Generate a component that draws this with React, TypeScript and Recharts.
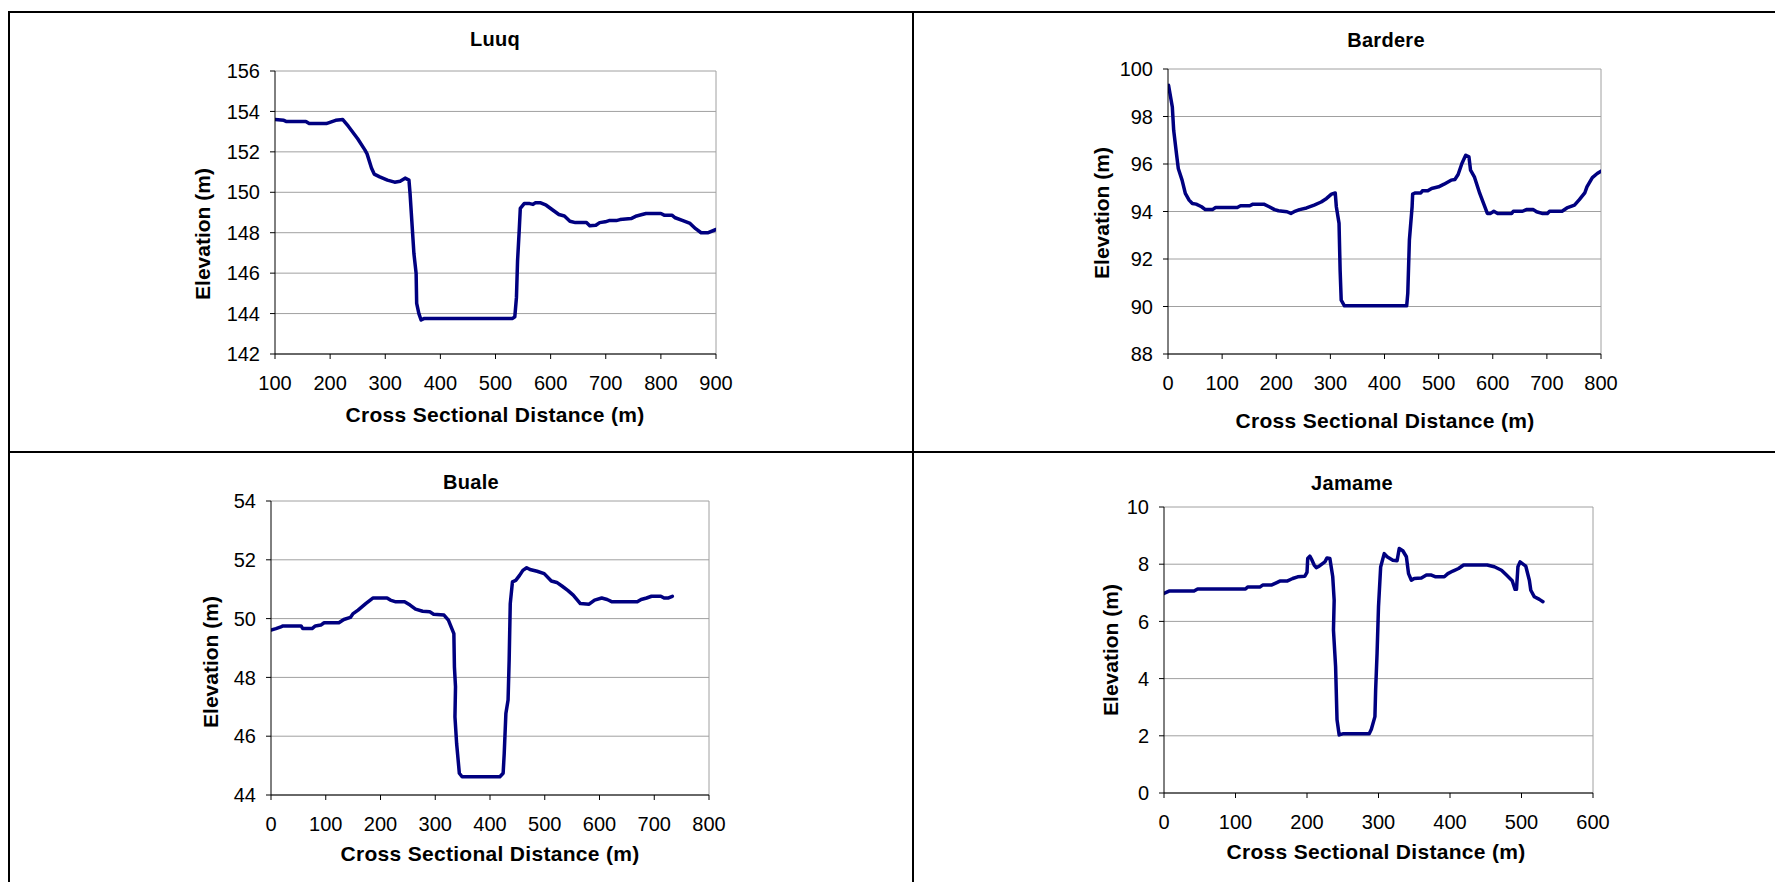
import React from 'react';
import { LineChart, Line, XAxis, YAxis, CartesianGrid, ReferenceLine } from 'recharts';

// ---- Data ----
const luuqDistance = [100, 116, 121, 156, 162, 193, 210, 223, 233, 250, 263, 267, 275, 280, 290, 304, 317, 327, 336, 343, 345, 352, 356, 357, 361, 365, 371, 397, 531, 535, 538, 540, 543, 545, 552, 562, 568, 572, 582, 592, 605, 615, 625, 635, 645, 665, 671, 682, 689, 699, 706, 719, 726, 746, 756, 766, 773, 800, 806, 820, 826, 840, 853, 863, 873, 886, 900];
const luuqElevation = [153.6, 153.56, 153.5, 153.5, 153.4, 153.4, 153.56, 153.6, 153.27, 152.65, 152.1, 151.9, 151.2, 150.9, 150.76, 150.6, 150.5, 150.55, 150.7, 150.6, 149.94, 146.97, 145.99, 144.5, 144.0, 143.68, 143.76, 143.76, 143.76, 143.84, 144.8, 146.6, 148.1, 149.2, 149.44, 149.44, 149.4, 149.48, 149.48, 149.36, 149.1, 148.9, 148.83, 148.57, 148.5, 148.5, 148.34, 148.37, 148.5, 148.54, 148.6, 148.6, 148.65, 148.7, 148.83, 148.9, 148.95, 148.95, 148.87, 148.87, 148.74, 148.6, 148.46, 148.2, 148.0, 148.0, 148.16];

const bardereDistance = [1, 8, 10.5, 16, 19, 26, 32, 39, 45, 52, 62, 69, 82, 88, 128, 134, 151, 157, 177, 187, 197, 204, 220, 227, 233, 243, 256, 270, 283, 293, 302, 309, 311, 316, 318, 320, 326, 339, 441, 443, 446, 451, 452, 457, 467, 470, 480, 487, 500, 510, 523, 530, 536, 543, 550, 556, 559, 566, 576, 583, 590, 596, 602, 609, 635, 638, 655, 662, 675, 681, 691, 701, 705, 728, 737, 751, 760, 770, 774, 784, 793, 800];
const bardereElevation = [99.31, 98.4, 97.42, 96.37, 95.81, 95.32, 94.76, 94.48, 94.34, 94.31, 94.2, 94.08, 94.08, 94.17, 94.17, 94.24, 94.24, 94.31, 94.31, 94.2, 94.08, 94.03, 93.99, 93.92, 93.99, 94.08, 94.15, 94.27, 94.4, 94.55, 94.73, 94.78, 94.2, 93.5, 91.53, 90.27, 90.03, 90.03, 90.03, 90.55, 92.8, 94.2, 94.73, 94.78, 94.78, 94.87, 94.87, 94.97, 95.04, 95.15, 95.32, 95.35, 95.56, 96.02, 96.37, 96.3, 95.74, 95.46, 94.76, 94.34, 93.92, 93.92, 94.01, 93.92, 93.92, 94.01, 94.01, 94.08, 94.08, 93.99, 93.92, 93.92, 94.01, 94.01, 94.15, 94.27, 94.5, 94.78, 95.04, 95.43, 95.6, 95.7];

const bualeDistance = [0, 9, 18, 22, 55, 58, 75, 81, 91, 97, 124, 133, 145, 150, 159, 173, 186, 212, 218, 228, 244, 254, 264, 277, 290, 297, 316, 324, 329, 334, 335, 337, 336, 339, 344, 349, 356, 418, 424, 426, 429, 433, 435, 437, 441, 447, 454, 460, 467, 473, 486, 499, 512, 522, 532, 542, 552, 565, 581, 591, 604, 614, 623, 669, 676, 686, 695, 712, 718, 725, 733];
const bualeElevation = [49.61, 49.66, 49.72, 49.75, 49.75, 49.66, 49.66, 49.75, 49.78, 49.86, 49.86, 49.97, 50.04, 50.17, 50.29, 50.51, 50.7, 50.7, 50.63, 50.57, 50.57, 50.46, 50.32, 50.25, 50.23, 50.15, 50.12, 49.95, 49.72, 49.49, 48.36, 47.68, 46.66, 45.76, 44.74, 44.62, 44.62, 44.62, 44.74, 45.42, 46.77, 47.23, 48.59, 50.51, 51.25, 51.3, 51.47, 51.64, 51.73, 51.67, 51.61, 51.53, 51.28, 51.23, 51.1, 50.96, 50.8, 50.51, 50.49, 50.63, 50.7, 50.65, 50.57, 50.57, 50.65, 50.7, 50.76, 50.76, 50.7, 50.7, 50.76];

const jamameDistance = [0, 7, 42, 47, 114, 117, 134, 138, 150, 157, 162, 172, 180, 187, 197, 200, 201, 204, 207, 210, 213, 217, 225, 228, 232, 236, 238, 237, 240, 242, 245, 250, 287, 290, 295, 296, 298, 300, 303, 308, 312, 320, 326, 329, 334, 339, 342, 346, 350, 360, 367, 374, 380, 392, 397, 404, 412, 419, 452, 462, 472, 479, 487, 491, 493, 495, 498, 506, 511, 513, 518, 525, 530];
const jamameElevation = [6.98, 7.06, 7.06, 7.13, 7.13, 7.2, 7.2, 7.27, 7.27, 7.35, 7.41, 7.41, 7.5, 7.56, 7.58, 7.71, 8.2, 8.28, 8.14, 7.97, 7.88, 7.93, 8.08, 8.22, 8.2, 7.56, 6.74, 5.7, 4.42, 2.56, 2.03, 2.07, 2.07, 2.23, 2.67, 3.6, 4.88, 6.51, 7.9, 8.37, 8.26, 8.14, 8.12, 8.55, 8.47, 8.26, 7.67, 7.44, 7.5, 7.52, 7.62, 7.62, 7.56, 7.56, 7.67, 7.76, 7.85, 7.97, 7.97, 7.91, 7.79, 7.62, 7.42, 7.12, 7.12, 7.91, 8.08, 7.93, 7.44, 7.09, 6.86, 6.77, 6.69];

const luuqXTicks = [100, 200, 300, 400, 500, 600, 700, 800, 900];
const luuqYTicks = [142, 144, 146, 148, 150, 152, 154, 156];
const bardereXTicks = [0, 100, 200, 300, 400, 500, 600, 700, 800];
const bardereYTicks = [88, 90, 92, 94, 96, 98, 100];
const bualeXTicks = [0, 100, 200, 300, 400, 500, 600, 700, 800];
const bualeYTicks = [44, 46, 48, 50, 52, 54];
const jamameXTicks = [0, 100, 200, 300, 400, 500, 600];
const jamameYTicks = [0, 2, 4, 6, 8, 10];

const X_TITLE = 'Cross Sectional Distance (m)';
const Y_TITLE = 'Elevation (m)';

const FONT = '"Liberation Sans", Arial, sans-serif';
const LINE_COLOR = '#000080';
const GRID_COLOR = '#a0a0a0';

type PanelProps = {
  title: string;
  xs: number[];
  ys: number[];
  xTicks: number[];
  yTicks: number[];
  plot: { x0: number; x1: number; y0: number; y1: number };
  titlePos: [number, number];
  xTitlePos: [number, number];
  yTitlePos: [number, number];
};

const textStyle = (x: number, y: number, size: number, spacing: number, rotate = false): React.CSSProperties => ({
  position: 'absolute',
  left: x,
  top: y,
  transform: rotate ? 'translate(-50%, -50%) rotate(-90deg)' : 'translate(-50%, -50%)',
  fontFamily: FONT,
  fontWeight: 'bold',
  fontSize: size,
  letterSpacing: spacing,
  lineHeight: `${size}px`,
  whiteSpace: 'nowrap',
  color: '#000',
});

function Panel({ title, xs, ys, xTicks, yTicks, plot, titlePos, xTitlePos, yTitlePos }: PanelProps) {
  const data = xs.map((x, i) => ({ x, y: ys[i] }));
  const YW = 60;
  const XH = 40;
  const mLeft = 60;
  const mTop = 20;
  const mRight = 20;
  const mBottom = 20;
  const left = plot.x0 - YW - mLeft;
  const top = plot.y0 - mTop;
  const width = plot.x1 - plot.x0 + YW + mLeft + mRight;
  const height = plot.y1 - plot.y0 + mTop + XH + mBottom;
  const xMin = xTicks[0];
  const xMax = xTicks[xTicks.length - 1];
  const yMin = yTicks[0];
  const yMax = yTicks[yTicks.length - 1];
  const tick = { fill: '#000', fontSize: 20, fontFamily: FONT };
  return (
    <>
      <div style={{ position: 'absolute', left, top }}>
        <LineChart width={width} height={height} data={data} margin={{ top: mTop, right: mRight, bottom: mBottom, left: mLeft }}>
          <CartesianGrid vertical={false} stroke={GRID_COLOR} strokeWidth={1} />
          <XAxis
            type="number"
            dataKey="x"
            domain={[xMin, xMax]}
            ticks={xTicks}
            height={XH}
            tickSize={5}
            tickMargin={17}
            axisLine={{ stroke: '#000' }}
            tickLine={{ stroke: '#000' }}
            tick={tick}
            interval={0}
            allowDataOverflow
          />
          <YAxis
            type="number"
            domain={[yMin, yMax]}
            ticks={yTicks}
            width={YW}
            tickSize={5}
            tickMargin={10}
            axisLine={{ stroke: '#000' }}
            tickLine={{ stroke: '#000' }}
            tick={tick}
            interval={0}
            allowDataOverflow
          />
          <ReferenceLine x={xMax} stroke={GRID_COLOR} strokeWidth={1} ifOverflow="visible" />
          <Line
            type="linear"
            dataKey="y"
            stroke={LINE_COLOR}
            strokeWidth={3.5}
            dot={false}
            activeDot={false}
            strokeLinejoin="round"
            strokeLinecap="round"
            isAnimationActive={false}
          />
        </LineChart>
      </div>
      <div style={textStyle(titlePos[0], titlePos[1], 20, 0.3)}>{title}</div>
      <div style={textStyle(xTitlePos[0], xTitlePos[1], 21, 0.3)}>{X_TITLE}</div>
      <div style={textStyle(yTitlePos[0], yTitlePos[1], 21, 0, true)}>{Y_TITLE}</div>
    </>
  );
}

const borderLine = (left: number, top: number, width: number, height: number): React.CSSProperties => ({
  position: 'absolute',
  left,
  top,
  width,
  height,
  background: '#000',
});

export default function App() {
  return (
    <div
      style={{
        position: 'absolute',
        left: 0,
        top: 0,
        width: 1775,
        height: 882,
        overflow: 'hidden',
        background: '#fff',
        fontFamily: FONT,
      }}
    >
      <div style={borderLine(8, 11, 1767, 2)} />
      <div style={borderLine(8, 11, 2, 871)} />
      <div style={borderLine(912, 11, 2, 871)} />
      <div style={borderLine(8, 451, 1767, 2)} />

      <Panel
        title="Luuq"
        xs={luuqDistance}
        ys={luuqElevation}
        xTicks={luuqXTicks}
        yTicks={luuqYTicks}
        plot={{ x0: 275, x1: 716, y0: 71, y1: 354 }}
        titlePos={[495, 39]}
        xTitlePos={[495, 414]}
        yTitlePos={[202, 234]}
      />
      <Panel
        title="Bardere"
        xs={bardereDistance}
        ys={bardereElevation}
        xTicks={bardereXTicks}
        yTicks={bardereYTicks}
        plot={{ x0: 1168, x1: 1601, y0: 69, y1: 354 }}
        titlePos={[1386, 40]}
        xTitlePos={[1385, 420]}
        yTitlePos={[1101, 213]}
      />
      <Panel
        title="Buale"
        xs={bualeDistance}
        ys={bualeElevation}
        xTicks={bualeXTicks}
        yTicks={bualeYTicks}
        plot={{ x0: 271, x1: 709, y0: 501, y1: 795 }}
        titlePos={[471, 482]}
        xTitlePos={[490, 853]}
        yTitlePos={[210, 662]}
      />
      <Panel
        title="Jamame"
        xs={jamameDistance}
        ys={jamameElevation}
        xTicks={jamameXTicks}
        yTicks={jamameYTicks}
        plot={{ x0: 1164, x1: 1593, y0: 507, y1: 793 }}
        titlePos={[1352, 483]}
        xTitlePos={[1376, 851]}
        yTitlePos={[1110, 650]}
      />
    </div>
  );
}
